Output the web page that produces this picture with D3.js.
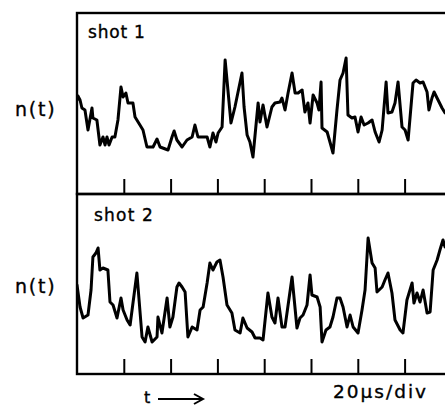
<!DOCTYPE html>
<html>
<head>
<meta charset="utf-8">
<script src="https://cdn.jsdelivr.net/npm/d3@7"></script>
<style>
  html, body { margin: 0; padding: 0; background: #fff; }
  svg { display: block; }
  text { font-family: "DejaVu Sans", "Noto Sans", sans-serif; fill: #000; stroke: #000; stroke-width: 0.35px; }
</style>
</head>
<body>
<svg id="chart" width="445" height="408"></svg>
<script>
// ---- data (time in µs, density n(t) in arbitrary units) ----
const shot1Time = [0,0.4,1.3,2.1,3.4,4.7,6.4,6.8,8.5,9.8,11.1,12.0,12.8,13.7,15.0,16.2,17.5,18.8,19.7,20.9,21.8,23.9,24.8,26.9,28.2,29.9,32.5,34.2,35.5,38.9,40.6,41.5,42.7,44.9,47.0,49.2,50.4,51.7,55.6,56.8,58.1,59.4,60.3,62.0,63.3,64.1,65.8,67.5,70.5,71.4,72.7,73.9,75.2,77.4,78.2,79.5,81.2,83.3,84.6,86.8,87.6,88.9,90.2,91.9,93.2,94.5,96.2,97.4,98.7,99.6,100.9,102.6,103.4,104.3,104.7,106.9,108.1,109.4,111.1,112.4,113.7,115.0,115.8,117.5,118.8,120.1,121.4,122.7,124.4,126.1,127.4,129.1,130.4,132.1,132.9,134.6,135.9,137.2,138.9,140.2,141.5,143.6,144.9,146.6,147.9,149.6,150.4,151.7,152.6,154.3,156.0,157.3];
const shot1Value = [9.0,9.4,9.0,8.2,8.0,6.0,8.2,7.2,7.0,4.5,5.3,4.5,5.3,4.5,5.3,5.3,7.0,10.3,9.3,9.7,8.7,8.7,7.3,6.5,6.0,4.3,4.3,5.1,4.3,4.0,5.3,5.9,5.0,4.3,5.0,5.3,6.5,5.3,5.3,4.3,5.7,4.8,5.7,6.3,13.0,11.0,6.7,8.3,11.7,8.3,5.5,4.8,3.3,8.7,6.8,8.5,6.3,8.3,8.7,8.8,9.2,8.0,9.7,11.7,9.7,9.7,10.0,7.8,8.7,6.7,9.5,8.7,8.0,10.8,6.2,5.8,4.8,3.7,8.0,11.0,11.7,13.2,7.5,7.2,7.3,5.8,7.3,6.5,6.7,7.0,5.8,4.8,6.0,10.8,7.7,7.8,8.7,10.8,6.3,6.0,5.0,10.7,11.0,10.7,10.8,9.8,8.0,9.2,9.8,9.0,8.2,7.7];

const shot2Time = [0,1.3,2.6,4.7,6.0,6.8,8.1,9.0,9.8,11.1,13.2,14.1,15.4,17.1,18.8,19.7,21.4,22.7,25.6,27.8,29.1,30.3,32.1,34.2,34.6,36.3,38.5,39.7,41.0,42.7,43.6,44.9,46.2,47.4,49.2,51.3,52.6,53.9,55.6,56.8,58.1,59.8,61.1,62.4,64.1,66.2,67.5,69.7,70.9,72.7,74.8,76.1,78.2,79.5,81.6,83.3,84.6,85.9,87.6,88.9,91.9,94.0,95.3,96.6,98.3,99.6,100.4,102.6,103.9,104.7,106.4,108.1,109.4,111.1,112.4,113.7,115.4,116.7,118.0,120.1,121.8,123.1,124.4,126.1,127.4,128.2,130.4,131.6,132.9,134.6,135.9,138.1,139.3,141.0,143.2,144.0,145.3,146.6,147.9,149.6,150.9,152.2,153.9,155.1,156.4,157.3];
const shot2Value = [8.5,6.3,5.2,5.5,8.0,11.3,11.7,12.2,10.0,10.2,10.0,6.8,6.5,5.2,7.2,6.0,5.0,4.5,9.7,3.3,2.8,4.3,2.8,3.3,5.3,3.7,7.2,4.3,5.3,8.3,8.7,8.3,7.8,3.3,4.3,4.0,6.0,6.3,8.7,10.7,10.0,10.8,11.0,9.3,6.5,5.7,4.0,3.7,5.2,4.2,3.8,3.2,3.2,3.0,7.7,5.3,4.7,7.2,4.3,4.3,9.3,4.2,5.2,5.5,6.5,9.5,7.5,7.3,6.3,2.8,4.0,4.3,5.3,7.2,7.2,6.3,4.3,5.5,4.3,3.7,6.0,8.0,13.2,10.7,10.2,7.8,8.3,9.0,9.7,7.7,5.0,4.0,3.7,7.0,8.7,6.7,7.7,6.8,8.0,5.7,5.8,10.0,11.0,12.0,13.0,12.3];

const tickTimes = [20,40,60,80,100,120,140,160];
const panelLabels = ["shot 1","shot 2"];
const yLabel = "n(t)";
const timeLabel = "t";
const scaleLabel = "20\u03bcs/div";

// ---- layout ----
const svg = d3.select("#chart");
const x = d3.scaleLinear().domain([0,160]).range([77, 77 + 46.8*8]);

const panels = [
  { top: 13,  bottom: 194, y: d3.scaleLinear().domain([0,17.7]).range([190,13]),  t: shot1Time, v: shot1Value, label: panelLabels[0], lx: 88, ly: 38, ny: 116, ls: 0.8 },
  { top: 194, bottom: 374, y: d3.scaleLinear().domain([0,17.6]).range([370,194]), t: shot2Time, v: shot2Value, label: panelLabels[1], lx: 94, ly: 221, ny: 293, ls: 1.2 }
];

svg.append("defs").append("clipPath").attr("id","clip")
  .append("rect").attr("x",77).attr("y",0).attr("width",368).attr("height",408);

panels.forEach(p => {
  // frame
  svg.append("rect")
    .attr("x", 77).attr("y", p.top)
    .attr("width", 400).attr("height", p.bottom - p.top)
    .attr("fill","none").attr("stroke","#000").attr("stroke-width",2.4);

  // ticks (inward from bottom)
  const axis = d3.axisBottom(x).tickValues(tickTimes).tickSize(-15).tickFormat("");
  const g = svg.append("g").attr("transform",`translate(0,${p.bottom})`).call(axis);
  g.select(".domain").remove();
  g.selectAll(".tick line").attr("stroke","#000").attr("stroke-width",2);

  // trace
  const data = p.t.map((t,i) => [t, p.v[i]]);
  const line = d3.line().x(d => x(d[0])).y(d => p.y(d[1]));
  svg.append("path").datum(data)
    .attr("clip-path","url(#clip)")
    .attr("d", line)
    .attr("fill","none").attr("stroke","#000")
    .attr("stroke-width",3).attr("stroke-linejoin","round").attr("stroke-linecap","round");

  svg.append("text").attr("x", p.lx).attr("y", p.ly)
    .attr("font-size", 17).attr("letter-spacing", p.ls).text(p.label);

  svg.append("text").attr("x", 15).attr("y", p.ny)
    .attr("font-size", 19).attr("letter-spacing", 1.8).text(yLabel);
});

// bottom annotations
svg.append("text").attr("x", 144).attr("y", 403).attr("font-size", 16).text(timeLabel);
svg.append("path").attr("d","M158,399 L202,399 M194,394 L203,399 L194,404")
  .attr("fill","none").attr("stroke","#000").attr("stroke-width",2);
svg.append("text").attr("x", 333).attr("y", 398).attr("font-size", 18.5).attr("letter-spacing", 2).text(scaleLabel);
</script>
</body>
</html>
